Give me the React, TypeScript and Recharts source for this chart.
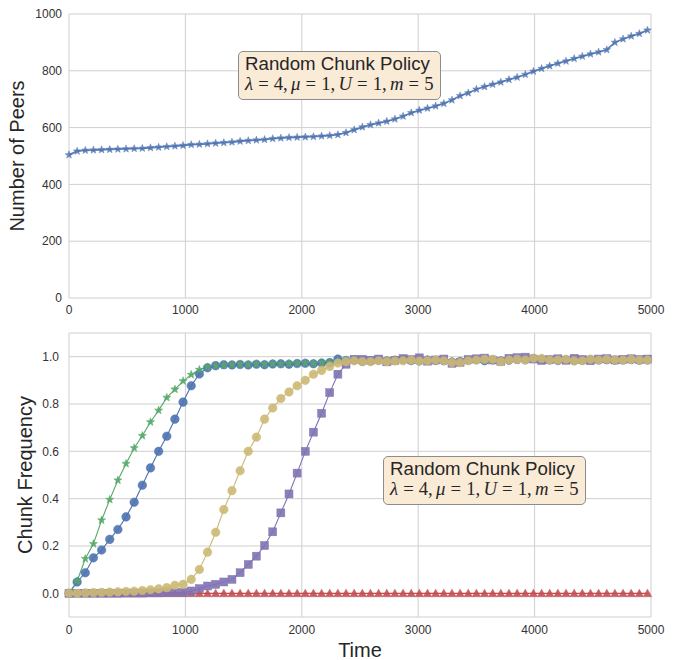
import React from 'react';
import { LineChart, Line, XAxis, YAxis, CartesianGrid } from 'recharts';

// sample times (one marker every 70 time units)
const times = [
  0, 70, 140, 210, 280, 350, 420, 490, 560, 630,
  700, 770, 840, 910, 980, 1050, 1120, 1190, 1260, 1330,
  1400, 1470, 1540, 1610, 1680, 1750, 1820, 1890, 1960, 2030,
  2100, 2170, 2240, 2310, 2380, 2450, 2520, 2590, 2660, 2730,
  2800, 2870, 2940, 3010, 3080, 3150, 3220, 3290, 3360, 3430,
  3500, 3570, 3640, 3710, 3780, 3850, 3920, 3990, 4060, 4130,
  4200, 4270, 4340, 4410, 4480, 4550, 4620, 4690, 4760, 4830,
  4900, 4970,
];

const peers = [
  504, 517, 520, 521, 522, 523, 524, 525, 526, 527,
  529, 531, 533, 535, 537, 540, 541, 543, 545, 547,
  549, 552, 554, 556, 558, 561, 563, 565, 566, 567,
  568, 570, 572, 575, 582, 592, 602, 610, 616, 622,
  630, 640, 652, 661, 668, 676, 685, 697, 712, 722,
  735, 744, 752, 760, 769, 777, 787, 798, 808, 817,
  826, 834, 843, 851, 859, 866, 874, 900, 912, 922,
  931, 943,
];

const chunk1 = [
  0.000, 0.048, 0.087, 0.150, 0.183, 0.228, 0.270, 0.323, 0.385, 0.457,
  0.530, 0.600, 0.664, 0.736, 0.808, 0.877, 0.927, 0.953, 0.962, 0.966,
  0.965, 0.967, 0.965, 0.968, 0.966, 0.969, 0.970, 0.968, 0.971, 0.972,
  0.970, 0.973, 0.975, 0.990, 0.984, 0.986, 0.980, 0.983, 0.986, 0.982,
  0.985, 0.987, 0.984, 0.982, 0.986, 0.984, 0.983, 0.977, 0.979, 0.985,
  0.987, 0.983, 0.986, 0.982, 0.985, 0.988, 0.987, 0.992, 0.989, 0.986,
  0.984, 0.987, 0.983, 0.985, 0.988, 0.986, 0.987, 0.985, 0.986, 0.988,
  0.985, 0.986,
];

const chunk2 = [
  0.000, 0.052, 0.146, 0.209, 0.309, 0.396, 0.478, 0.548, 0.614, 0.666,
  0.724, 0.773, 0.827, 0.862, 0.897, 0.924, 0.945, 0.956, 0.962, 0.963,
  0.966, 0.968, 0.967, 0.969, 0.968, 0.970, 0.969, 0.971, 0.972, 0.973,
  0.971, 0.974, 0.976, 0.982, 0.984, 0.985, 0.981, 0.984, 0.985, 0.983,
  0.986, 0.985, 0.983, 0.984, 0.987, 0.985, 0.982, 0.979, 0.981, 0.984,
  0.986, 0.984, 0.985, 0.983, 0.986, 0.987, 0.986, 0.990, 0.988, 0.985,
  0.985, 0.986, 0.984, 0.986, 0.987, 0.985, 0.986, 0.986, 0.985, 0.987,
  0.986, 0.985,
];

const chunk3 = [
  0, 0, 0, 0, 0, 0, 0, 0, 0, 0,
  0, 0, 0, 0, 0, 0, 0, 0, 0, 0,
  0, 0, 0, 0, 0, 0, 0, 0, 0, 0,
  0, 0, 0, 0, 0, 0, 0, 0, 0, 0,
  0, 0, 0, 0, 0, 0, 0, 0, 0, 0,
  0, 0, 0, 0, 0, 0, 0, 0, 0, 0,
  0, 0, 0, 0, 0, 0, 0, 0, 0, 0,
  0, 0,
];

const chunk4 = [
  0.000, 0.000, 0.000, 0.000, 0.000, 0.000, 0.000, 0.001, 0.001, 0.001,
  0.002, 0.002, 0.003, 0.003, 0.004, 0.010, 0.020, 0.031, 0.038, 0.048,
  0.059, 0.087, 0.122, 0.157, 0.202, 0.260, 0.340, 0.420, 0.508, 0.600,
  0.681, 0.761, 0.848, 0.926, 0.968, 0.989, 0.989, 0.985, 0.990, 0.978,
  0.984, 0.992, 0.988, 0.995, 0.981, 0.986, 0.990, 0.972, 0.976, 0.988,
  0.991, 0.994, 0.986, 0.980, 0.993, 0.996, 0.998, 0.990, 0.984, 0.987,
  0.991, 0.985, 0.993, 0.988, 0.983, 0.990, 0.992, 0.986, 0.989, 0.991,
  0.988, 0.990,
];

const chunk5 = [
  0.000, 0.000, 0.002, 0.003, 0.004, 0.005, 0.006, 0.008, 0.009, 0.012,
  0.015, 0.019, 0.024, 0.034, 0.038, 0.059, 0.101, 0.174, 0.258, 0.354,
  0.434, 0.518, 0.600, 0.660, 0.736, 0.783, 0.823, 0.851, 0.877, 0.900,
  0.926, 0.942, 0.959, 0.973, 0.979, 0.983, 0.979, 0.979, 0.983, 0.979,
  0.982, 0.983, 0.986, 0.982, 0.983, 0.986, 0.983, 0.975, 0.975, 0.983,
  0.986, 0.989, 0.989, 0.979, 0.986, 0.989, 0.986, 0.993, 0.992, 0.986,
  0.986, 0.989, 0.983, 0.983, 0.989, 0.986, 0.989, 0.986, 0.986, 0.989,
  0.986, 0.986,
];

const timeTicks = [0, 1000, 2000, 3000, 4000, 5000];
const peerTicks = [0, 200, 400, 600, 800, 1000];
const freqTicks = [-0.1, 0, 0.2, 0.4, 0.6, 0.8, 1.0, 1.1];

const peerData = times.map((t, i) => ({ t, peers: peers[i] }));
const chunkData = times.map((t, i) => ({
  t,
  c1: chunk1[i],
  c2: chunk2[i],
  c3: chunk3[i],
  c4: chunk4[i],
  c5: chunk5[i],
}));

const BLUE = '#4C72B0';
const GREEN = '#55A868';
const RED = '#C44E52';
const PURPLE = '#8172B2';
const YELLOW = '#CCB974';

const SANS = '"Liberation Sans", Arial, sans-serif';
const SERIF = '"Liberation Serif", "Times New Roman", serif';
const tickStyle = { fontSize: 12, fill: '#333', fontFamily: SANS };

function starPath(cx: number, cy: number, r: number) {
  let d = '';
  for (let i = 0; i < 10; i++) {
    const rad = i % 2 === 0 ? r : r * 0.42;
    const a = -Math.PI / 2 + (i * Math.PI) / 5;
    d += (i === 0 ? 'M' : 'L') + (cx + rad * Math.cos(a)).toFixed(2) + ',' + (cy + rad * Math.sin(a)).toFixed(2);
  }
  return d + 'Z';
}

const marker = (shape: string, color: string, size: number, opacity = 0.9) => (props: any) => {
  const { cx, cy, index } = props;
  if (cx == null || cy == null) return <g key={index} />;
  const common = { fill: color, fillOpacity: opacity, stroke: color, strokeOpacity: opacity, strokeWidth: 0.5 };
  if (shape === 'circle') return <circle key={index} cx={cx} cy={cy} r={size} {...common} />;
  if (shape === 'square')
    return <rect key={index} x={cx - size} y={cy - size} width={size * 2} height={size * 2} {...common} />;
  if (shape === 'triangle') {
    const h = size;
    return (
      <path
        key={index}
        d={`M${cx},${cy - h}L${cx + h},${cy + h * 0.8}L${cx - h},${cy + h * 0.8}Z`}
        {...common}
      />
    );
  }
  return <path key={index} d={starPath(cx, cy, size)} {...common} />;
};

function PolicyBox({ left, top }: { left: number; top: number }) {
  const eq = { margin: '0 0.27em' };
  const sep = { marginRight: '0.18em' };
  return (
    <div
      style={{
        position: 'absolute',
        left,
        top,
        padding: '2px 6px 5px 6px',
        background: '#FAEBD7',
        border: '1px solid #8c8c8c',
        borderRadius: 5,
        color: '#262626',
        whiteSpace: 'nowrap',
      }}
    >
      <div style={{ fontFamily: SANS, fontSize: 18.7, lineHeight: '20px', height: 20 }}>Random Chunk Policy</div>
      <div style={{ fontFamily: SERIF, fontSize: 18.7, lineHeight: '20px', height: 20 }}>
        <i>λ</i>
        <span style={eq}>=</span>4<span style={sep}>,</span>
        <i>μ</i>
        <span style={eq}>=</span>1<span style={sep}>,</span>
        <i>U</i>
        <span style={eq}>=</span>1<span style={sep}>,</span>
        <i>m</i>
        <span style={eq}>=</span>5
      </div>
    </div>
  );
}

export default function App() {
  return (
    <div style={{ position: 'absolute', left: 0, top: 0, width: 678, height: 660, background: '#fff' }}>
      <div style={{ position: 'absolute', left: 0, top: 0 }}>
        <LineChart width={678} height={320} data={peerData} margin={{ top: 14, right: 27, bottom: 0, left: 0 }}>
          <CartesianGrid stroke="#cfcfcf" strokeWidth={1} />
          <XAxis
            dataKey="t"
            type="number"
            domain={[0, 5000]}
            ticks={timeTicks}
            height={22}
            tickLine={false}
            axisLine={false}
            tickSize={0}
            tickMargin={7}
            tick={tickStyle}
          />
          <YAxis
            type="number"
            domain={[0, 1000]}
            ticks={peerTicks}
            width={69}
            tickLine={false}
            axisLine={false}
            tickSize={0}
            tickMargin={7}
            tick={tickStyle}
            label={{
              value: 'Number of Peers',
              angle: -90,
              position: 'insideLeft',
              offset: 17,
              style: { textAnchor: 'middle', fontSize: 20, fill: '#262626', fontFamily: SANS },
            }}
          />
          <Line
            dataKey="peers"
            stroke={BLUE}
            strokeOpacity={0.9}
            strokeWidth={1.8}
            dot={marker('star', BLUE, 4, 0.8)}
            isAnimationActive={false}
          />
        </LineChart>
      </div>
      <div style={{ position: 'absolute', left: 0, top: 320 }}>
        <LineChart width={678} height={340} data={chunkData} margin={{ top: 13, right: 27, bottom: 0, left: 0 }}>
          <CartesianGrid stroke="#cfcfcf" strokeWidth={1} />
          <XAxis
            dataKey="t"
            type="number"
            domain={[0, 5000]}
            ticks={timeTicks}
            height={43}
            tickLine={false}
            axisLine={false}
            tickSize={0}
            tickMargin={8}
            tick={tickStyle}
            label={{
              value: 'Time',
              position: 'insideBottom',
              offset: 3,
              style: { fontSize: 20, fill: '#262626', fontFamily: SANS },
            }}
          />
          <YAxis
            type="number"
            domain={[-0.1, 1.1]}
            ticks={freqTicks}
            width={69}
            tickLine={false}
            axisLine={false}
            tickSize={0}
            tickMargin={10}
            tick={tickStyle}
            tickFormatter={(v: number) => (v < -0.05 || v > 1.05 ? '' : v.toFixed(1))}
            label={{
              value: 'Chunk Frequency',
              angle: -90,
              position: 'insideLeft',
              offset: 25,
              style: { textAnchor: 'middle', fontSize: 20, fill: '#262626', fontFamily: SANS },
            }}
          />
          <Line dataKey="c1" stroke={BLUE} strokeWidth={1.1} dot={marker('circle', BLUE, 4.3)} isAnimationActive={false} />
          <Line dataKey="c2" stroke={GREEN} strokeWidth={1.1} dot={marker('star', GREEN, 4.3)} isAnimationActive={false} />
          <Line dataKey="c3" stroke={RED} strokeWidth={1.1} dot={marker('triangle', RED, 4.2)} isAnimationActive={false} />
          <Line dataKey="c4" stroke={PURPLE} strokeWidth={1.1} dot={marker('square', PURPLE, 4)} isAnimationActive={false} />
          <Line dataKey="c5" stroke={YELLOW} strokeWidth={1.1} dot={marker('circle', YELLOW, 4.3)} isAnimationActive={false} />
        </LineChart>
      </div>
      <PolicyBox left={238} top={51} />
      <PolicyBox left={383} top={456} />
    </div>
  );
}
